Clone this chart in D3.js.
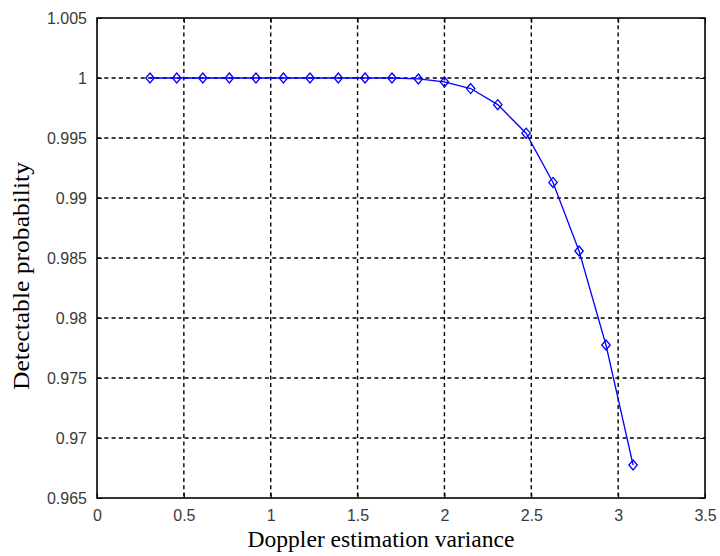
<!DOCTYPE html>
<meta charset="utf-8">
<style>
    body { margin: 0; background: #fff; }
    .tick text { font-family: "Liberation Sans", Arial, sans-serif; font-size: 16px; fill: #3a3a3a; }
    .grid line { stroke: #000; stroke-width: 1.4; stroke-dasharray: 4,3.3; }
    .axis-label { font-family: "Liberation Serif", "Times New Roman", serif; font-size: 23px; fill: #000; }
</style>
<svg width="720" height="556"></svg>
<script src="https://d3js.org/d3.v7.min.js"></script>
<script>

    // Doppler estimation variance vs detectable probability
    var variance = [0.305, 0.459, 0.609, 0.762, 0.915, 1.073, 1.226, 1.389, 1.543, 1.698,
                    1.850, 2.000, 2.151, 2.307, 2.470, 2.625, 2.775, 2.930, 3.086];
    var probability = [1, 1, 1, 1, 1, 1, 1, 1, 1, 1,
                       0.99992, 0.99967, 0.99912, 0.99778, 0.9954, 0.9913, 0.98558, 0.97775, 0.96775];
    var xTicks = [0, 0.5, 1, 1.5, 2, 2.5, 3, 3.5];
    var yTicks = [0.965, 0.97, 0.975, 0.98, 0.985, 0.99, 0.995, 1, 1.005];

    var svg = d3.select("svg"),
        margin = {top: 18, right: 15, bottom: 58, left: 97},
        width = +svg.attr("width") - margin.left - margin.right,
        height = +svg.attr("height") - margin.top - margin.bottom;

    var x = d3.scaleLinear().domain([0, 3.5]).range([0, width]),
        y = d3.scaleLinear().domain([0.965, 1.005]).range([height, 0]);

    var g = svg.append("g")
        .attr("transform", "translate(" + margin.left + "," + margin.top + ")");

    // dashed grid
    g.append("g").attr("class", "grid")
        .selectAll("line")
        .data(xTicks.slice(1, -1))
        .enter().append("line")
        .attr("x1", function(d) { return x(d); })
        .attr("x2", function(d) { return x(d); })
        .attr("y1", 0).attr("y2", height);

    g.append("g").attr("class", "grid")
        .selectAll("line")
        .data(yTicks.slice(1, -1))
        .enter().append("line")
        .attr("y1", function(d) { return y(d); })
        .attr("y2", function(d) { return y(d); })
        .attr("x1", 0).attr("x2", width);

    // axes
    var fmt = function(d) { return d3.format("")(+d.toFixed(3)); };

    g.append("g")
        .attr("transform", "translate(0," + height + ")")
        .call(d3.axisBottom(x).tickValues(xTicks).tickFormat(fmt).tickSizeInner(-5).tickSizeOuter(0).tickPadding(12))
        .call(function(a) { a.select(".domain").remove(); });

    g.append("g")
        .call(d3.axisLeft(y).tickValues(yTicks).tickFormat(fmt).tickSizeInner(-5).tickSizeOuter(0).tickPadding(10))
        .call(function(a) { a.select(".domain").remove(); });

    g.append("g")
        .call(d3.axisTop(x).tickValues(xTicks).tickFormat("").tickSizeInner(-5).tickSizeOuter(0))
        .call(function(a) { a.select(".domain").remove(); });

    g.append("g")
        .attr("transform", "translate(" + width + ",0)")
        .call(d3.axisRight(y).tickValues(yTicks).tickFormat("").tickSizeInner(-5).tickSizeOuter(0))
        .call(function(a) { a.select(".domain").remove(); });

    g.selectAll(".tick line").attr("stroke", "#000");

    // frame
    g.append("rect")
        .attr("width", width).attr("height", height)
        .attr("fill", "none").attr("stroke", "#000").attr("stroke-width", 1.6);

    var pts = variance.map(function(v, i) { return [v, probability[i]]; });

    g.append("path")
        .datum(pts)
        .attr("fill", "none")
        .attr("stroke", "#0000ff")
        .attr("stroke-width", 1.3)
        .attr("d", d3.line()
            .x(function(d) { return x(d[0]); })
            .y(function(d) { return y(d[1]); }));

    g.selectAll(".marker")
        .data(pts)
        .enter().append("path")
        .attr("class", "marker")
        .attr("transform", function(d) { return "translate(" + x(d[0]) + "," + y(d[1]) + ")"; })
        .attr("d", "M0,-5L4.2,0L0,5L-4.2,0Z")
        .attr("fill", "none")
        .attr("stroke", "#0000ff")
        .attr("stroke-width", 1.3);

    svg.append("text")
        .attr("class", "axis-label")
        .attr("text-anchor", "middle")
        .attr("x", 381)
        .attr("y", 547)
        .attr("textLength", 267)
        .attr("lengthAdjust", "spacingAndGlyphs")
        .text("Doppler estimation variance");

    svg.append("text")
        .attr("class", "axis-label")
        .attr("text-anchor", "middle")
        .attr("transform", "translate(29,276) rotate(-90)")
        .attr("textLength", 228)
        .attr("lengthAdjust", "spacingAndGlyphs")
        .text("Detectable probability");
</script>
